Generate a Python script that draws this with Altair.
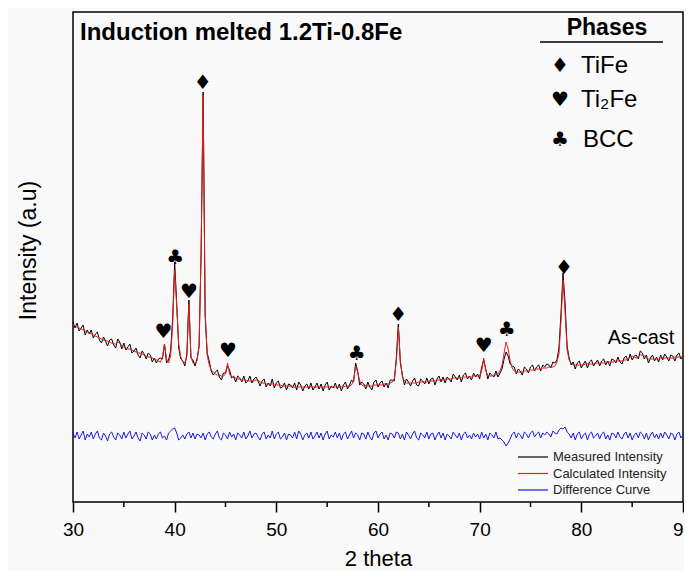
import altair as alt
import pandas as pd

# ---------------- data ----------------
# sampling grid of the diffractogram, 2-theta in degrees (30 .. 90, step 0.2)
two_theta = [round(30 + 0.2 * i, 1) for i in range(301)]

# calculated (Rietveld) intensity, arbitrary units, one row = 2 degrees
calculated = [
    177, 176, 175, 174, 173, 172, 171, 170, 169, 168,   # 30
    167, 166, 165, 164, 163, 162, 161, 161, 160, 159,   # 32
    158, 158, 160, 159, 156, 155, 154, 153, 153, 152,   # 34
    151, 150, 149, 149, 148, 147, 146, 145, 145, 144,   # 36
    143, 142, 141, 140, 145, 158, 143, 139, 146, 176,   # 38
    232, 196, 158, 145, 140, 139, 146, 198, 146, 139,   # 40
    139, 141, 155, 250, 407, 190, 147, 137, 132, 130,   # 42
    128, 127, 127, 126, 126, 128, 139, 128, 125, 124,   # 44
    124, 123, 123, 122, 122, 122, 121, 121, 121, 121,   # 46
    122, 122, 120, 119, 119, 118, 118, 118, 118, 117,   # 48
    117, 117, 117, 116, 116, 116, 116, 116, 116, 115,   # 50
    115, 115, 115, 115, 115, 115, 115, 115, 115, 115,   # 52
    115, 115, 115, 115, 115, 115, 115, 115, 115, 115,   # 54
    115, 115, 115, 115, 116, 116, 116, 117, 122, 136,   # 56
    130, 121, 117, 116, 116, 116, 116, 116, 117, 117,   # 58
    117, 117, 117, 118, 118, 118, 119, 120, 123, 140,   # 60
    175, 142, 125, 121, 119, 119, 119, 119, 119, 119,   # 62
    120, 120, 120, 120, 120, 121, 121, 121, 121, 122,   # 64
    122, 122, 122, 123, 123, 123, 123, 124, 124, 124,   # 66
    124, 124, 125, 125, 125, 125, 125, 126, 126, 126,   # 68
    126, 131, 144, 131, 127, 126, 126, 127, 127, 128,   # 70
    131, 137, 149, 160, 153, 141, 134, 131, 130, 130,   # 72
    130, 130, 131, 131, 131, 132, 132, 132, 133, 133,   # 74
    133, 134, 134, 134, 135, 135, 135, 136, 140, 148,   # 76
    181, 222, 190, 152, 142, 139, 137, 137, 137, 137,   # 78
    137, 137, 138, 138, 138, 138, 138, 139, 139, 139,   # 80
    139, 139, 140, 140, 140, 140, 140, 141, 141, 141,   # 82
    141, 142, 142, 143, 145, 146, 145, 144, 145, 147,   # 84
    147, 146, 144, 143, 143, 143, 143, 143, 143, 144,   # 86
    144, 144, 144, 144, 144, 144, 145, 145, 145, 145,   # 88
    145,                                                # 90
]

# difference curve (measured - calculated)
difference = [
    3, -2, 4, -3, 1, 5, -4, 2, -1, 4,        # 30
    -3, 2, 5, -2, -4, 3, 0, -5, 2, 4,        # 32
    -1, -4, 3, 1, -3, 4, -2, 2, 5, -3,       # 34
    0, 4, -2, -5, 3, 1, -3, 4, 2, -4,        # 36
    1, -3, 2, 4, -2, 0, -4, 3, 5, 7,         # 38
    8, 3, -4, -2, 1, -3, 2, 4, -2, 3,        # 40
    -3, 2, 1, -2, 3, -4, 2, 4, -1, -3,       # 42
    2, 5, -2, -4, 3, 1, -3, 4, -1, 2,        # 44
    -4, 3, 1, -2, 4, -3, 0, 5, -2, 2,        # 46
    3, -1, -4, 2, 4, -3, 1, -2, 5, -3,       # 48
    2, 4, -3, -1, 3, -4, 2, 1, -2, 4,        # 50
    -3, 5, 2, -4, 1, 3, -2, 4, -3, 0,        # 52
    4, -2, 3, -4, 2, 5, -3, 1, -1, 4,        # 54
    -2, 3, -4, 2, 4, -3, 1, 5, -2, 3,        # 56
    1, -4, 3, 2, -3, 4, -1, -4, 3, 5,        # 58
    -2, 2, 4, -3, 1, -4, 3, 2, -2, 4,        # 60
    3, -3, 2, -4, 4, 1, -3, 2, 5, -2,        # 62
    -4, 3, 1, -2, 4, -3, 2, 3, -4, 1,        # 64
    4, -2, 3, -4, 2, 0, -3, 4, 1, -2,        # 66
    3, -4, 2, 4, -2, 1, -3, 3, -1, 2,        # 68
    -3, 4, -2, 2, -4, 3, 1, -2, 4, -3,       # 70
    -2, -4, -6, -10, -7, -3, 2, 4, -2, 3,    # 72
    1, -3, 4, 2, -2, 3, 5, -1, 2, 4,         # 74
    -2, 3, 1, 4, 2, -1, 5, 3, 2, 6,          # 76
    8, 7, 9, 4, 2, -2, 3, -4, 2, 4,          # 78
    -3, 1, 3, -4, 2, 4, -2, 0, 3, -3,        # 80
    2, 4, -3, 1, -4, 3, 2, -2, 4, -1,        # 82
    -3, 2, 4, -2, 3, -4, 1, 3, -2, 4,        # 84
    2, -3, 3, -4, 1, 4, -2, 2, -3, 3,        # 86
    -2, 4, 1, -3, 3, 2, -4, 2, 4, -2,        # 88
    1,                                       # 90
]
DIFF_BASELINE = 66  # vertical offset at which the difference curve is drawn

assert len(calculated) == len(two_theta) == len(difference)

# indexed peaks and their phases
peak_pos = [38.9, 40.05, 41.4, 42.75, 45.25, 57.9, 62.0, 70.4, 72.65, 78.3]
peak_phase = ["Ti2Fe", "BCC", "Ti2Fe", "TiFe", "Ti2Fe", "BCC", "TiFe", "Ti2Fe", "BCC", "TiFe"]
phase_symbol = {"TiFe": "\u2666", "Ti2Fe": "\u2665", "BCC": "\u2663"}

series_names = ["Measured Intensity", "Calculated Intensity", "Difference Curve"]
series_colors = ["#000000", "#e0201c", "#1a1ae6"]

x_major = [30, 40, 50, 60, 70, 80, 90]
x_minor = [35, 45, 55, 65, 75, 85]

# ---------------- tables ----------------
measured = [c + d for c, d in zip(calculated, difference)]
diff_plot = [DIFF_BASELINE + d for d in difference]
rows = []
for name, vals in zip(series_names, [measured, calculated, diff_plot]):
    for t, v in zip(two_theta, vals):
        rows.append({"theta": t, "value": v, "series": name})
df = pd.DataFrame(rows)

peak_rows = []
for p, ph in zip(peak_pos, peak_phase):
    top = max(v for t, v in zip(two_theta, calculated) if abs(t - p) <= 0.3)
    peak_rows.append({"theta": p, "value": top + 12, "sym": phase_symbol[ph]})
peaks_df = pd.DataFrame(peak_rows)

FONT = "Liberation Sans"

x_scale = alt.Scale(domain=[30, 90], nice=False, zero=False)
y_scale = alt.Scale(domain=[0, 490], nice=False, zero=False)
color_scale = alt.Scale(domain=series_names, range=series_colors)

x_axis = alt.Axis(values=x_major, title="2 theta", tickSize=10, tickWidth=1.5,
                  tickColor="black", domain=False, grid=False, labelFontSize=19,
                  labelFont=FONT, labelColor="black", labelPadding=8, labelFlush=False,
                  titleFont=FONT, titleFontSize=22, titleFontWeight="normal",
                  titleColor="black", titleY=56, titleBaseline="middle")
y_axis = alt.Axis(title="Intensity (a.u)", labels=False, ticks=False, domain=False,
                  grid=False, titleFont=FONT, titleFontSize=23, titleFontWeight="normal",
                  titleColor="black", titleX=-45, titleY=238, titleAngle=270,
                  titleAlign="center", titleBaseline="middle")

layers = []
for name in series_names:
    layers.append(
        alt.Chart(df).transform_filter(alt.datum.series == name)
        .mark_line(strokeWidth=1)
        .encode(x=alt.X("theta:Q", scale=x_scale, axis=x_axis),
                y=alt.Y("value:Q", scale=y_scale, axis=y_axis),
                color=alt.Color("series:N", scale=color_scale, legend=None))
    )

minor = alt.Chart(pd.DataFrame({"theta": x_minor})).mark_rule(
    color="black", strokeWidth=1.5).encode(
    x=alt.X("theta:Q", scale=x_scale, axis=x_axis),
    y=alt.value(490), y2=alt.value(495))

markers = alt.Chart(peaks_df).mark_text(
    font="DejaVu Sans", fontSize=20, color="black", baseline="middle", align="center"
).encode(x=alt.X("theta:Q", scale=x_scale, axis=x_axis),
         y=alt.Y("value:Q", scale=y_scale, axis=y_axis),
         text="sym:N")

one = pd.DataFrame({"k": [0]})


def label(txt, x, y, size, weight="normal", align="left", font=FONT, color="black"):
    return alt.Chart(one).mark_text(
        text=txt, font=font, fontSize=size, fontWeight=weight, color=color,
        align=align, baseline="middle").encode(x=alt.value(x), y=alt.value(y))


def key_line(color, y):
    return alt.Chart(one).mark_rule(color=color, strokeWidth=1.2).encode(
        x=alt.value(445), x2=alt.value(475), y=alt.value(y))


title_txt = label("Induction melted 1.2Ti-0.8Fe", 7, 21, 24, "bold")
phases_txt = label("Phases", 534, 16, 23, "bold", "center")
underline = alt.Chart(one).mark_rule(color="black", strokeWidth=1.5).encode(
    x=alt.value(467), x2=alt.value(590), y=alt.value(30))
sym1 = label("\u2666", 487, 54, 20, align="center", font="DejaVu Sans")
sym2 = label("\u2665", 487, 88, 20, align="center", font="DejaVu Sans")
sym3 = label("\u2663", 487, 128, 20, align="center", font="DejaVu Sans")
lab1 = label("TiFe", 508, 54, 24)
lab2 = label("Ti\u2082Fe", 508, 88, 24)
lab3 = label("BCC", 510, 128, 24)
ascast = label("As-cast", 568, 326, 20, align="center")

key_parts = []
for i, (name, col) in enumerate(zip(series_names, series_colors)):
    yy = 445 + 16.5 * i
    key_parts.append(key_line(col, yy))
    key_parts.append(label(name, 480, yy, 13, color="#222222"))

chart = alt.layer(
    *layers, minor, markers, title_txt, phases_txt, underline,
    sym1, sym2, sym3, lab1, lab2, lab3, ascast, *key_parts
).properties(
    width=610, height=490,
    autosize=alt.AutoSizeParams(type="none"),
    padding={"left": 65, "top": 4, "right": 1, "bottom": 69},
    background="#f9f9f9",
).configure_view(stroke="black", strokeWidth=1.5)

chart.save("out.html", embed_options={"renderer": "svg", "actions": False})
